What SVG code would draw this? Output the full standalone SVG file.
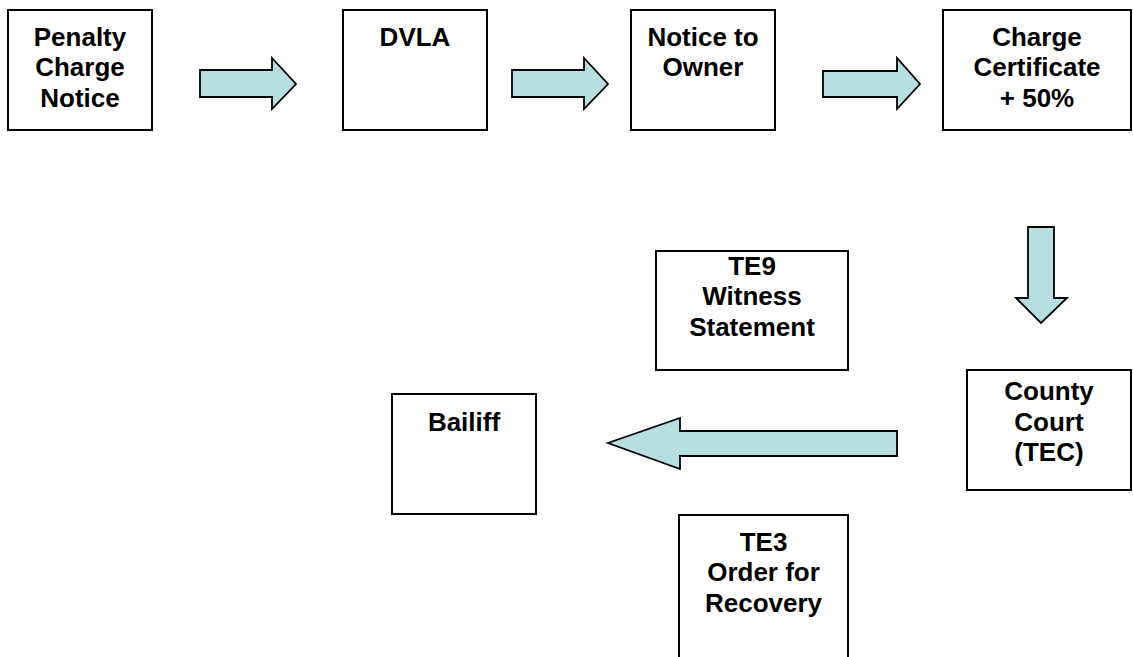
<svg xmlns="http://www.w3.org/2000/svg" width="1133" height="657" viewBox="0 0 1133 657">
<style>
.box{fill:#fff;stroke:#000;stroke-width:2}
.arr{fill:#b7dfe1;stroke:#000;stroke-width:1.8;stroke-linejoin:miter}
text{font-family:"Liberation Sans",Arial,sans-serif;font-weight:bold;font-size:26px;text-anchor:middle;fill:#000}
</style>
<rect width="1133" height="657" fill="#fff"/>
<g id="connectors">
<polygon class="arr" points="200,70 272,70 272,58 296,84 272,109 272,97 200,97"/>
<polygon class="arr" points="512,70 584,70 584,58 608,84 584,109 584,97 512,97"/>
<polygon class="arr" points="823,71 897,71 897,58 920,84 897,109 897,97 823,97"/>
<polygon class="arr" points="1028,227 1054,227 1054,298 1067,298 1041,323 1016,298 1028,298"/>
<polygon class="arr" points="897,431 680,431 680,418 608,443 680,469 680,456 897,456"/>
</g>
<g id="penalty">
<rect class="box" x="8" y="10" width="144" height="120"/>
<text x="80" y="46">Penalty</text><text x="80" y="76">Charge</text><text x="80" y="107">Notice</text>
</g>
<g id="dvla">
<rect class="box" x="343" y="10" width="144" height="120"/>
<text x="415" y="46">DVLA</text>
</g>
<g id="notice">
<rect class="box" x="631" y="10" width="144" height="120"/>
<text x="703" y="46">Notice to</text><text x="703" y="76">Owner</text>
</g>
<g id="charge">
<rect class="box" x="943" y="10" width="188" height="120"/>
<text x="1037" y="46">Charge</text><text x="1037" y="76">Certificate</text><text x="1037" y="107">+ 50%</text>
</g>
<g id="county">
<rect class="box" x="967" y="370" width="164" height="120"/>
<text x="1049" y="400">County</text><text x="1049" y="431">Court</text><text x="1049" y="461">(TEC)</text>
</g>
<g id="te9">
<rect class="box" x="656" y="251" width="192" height="119"/>
<text x="752" y="275">TE9</text><text x="752" y="305">Witness</text><text x="752" y="336">Statement</text>
</g>
<g id="bailiff">
<rect class="box" x="392" y="394" width="144" height="120"/>
<text x="464" y="431">Bailiff</text>
</g>
<g id="te3">
<rect class="box" x="679" y="515" width="169" height="160"/>
<text x="763.5" y="551">TE3</text><text x="763.5" y="581">Order for</text><text x="763.5" y="612">Recovery</text>
</g>
</svg>
